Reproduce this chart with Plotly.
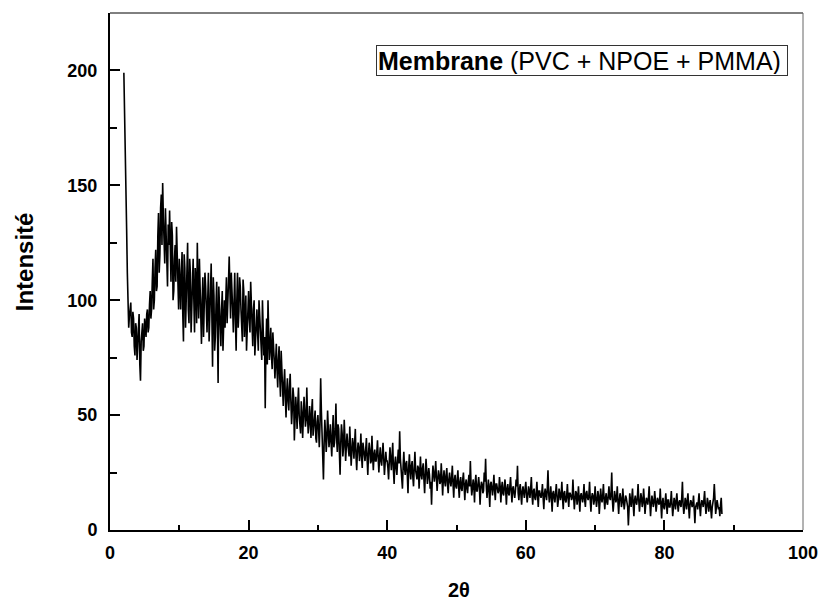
import numpy as np
import plotly.graph_objects as go

# 2-theta scan, read in blocks. "a" lists start at the block start,
# "b" lists are the readings in between (offset by half a step).
step_2theta = 0.2
half_step = 0.1

start_02_10 = 2.0
intensity_02_10_a = [199, 171, 131, 101, 93, 99, 84, 92, 76, 88,
                     80, 94, 65, 86, 78, 92, 84, 96, 88, 104,
                     96, 118, 100, 122, 106, 138, 120, 146, 151, 128,
                     140, 112, 133, 139, 108, 128, 104, 124, 132, 102]
intensity_02_10_b = [185, 150, 112, 88, 97, 86, 95, 80, 90, 74,
                     88, 72, 82, 90, 80, 88, 94, 86, 98, 92,
                     108, 96, 114, 104, 128, 112, 140, 124, 136, 116,
                     128, 106, 124, 114, 134, 100, 118, 108, 120, 96]

start_10_20 = 10.0
intensity_10_20_a = [118, 96, 121, 82, 114, 98, 125, 90, 112, 95,
                     118, 86, 108, 125, 92, 104, 81, 110, 94, 106,
                     86, 112, 90, 116, 71, 102, 84, 108, 64, 96,
                     80, 104, 90, 88, 110, 96, 119, 92, 106, 86,
                     112, 78, 112, 95, 106, 88, 109, 84, 102, 90]
intensity_10_20_b = [104, 112, 94, 120, 88, 110, 96, 118, 86, 106,
                     100, 114, 90, 104, 118, 88, 100, 84, 112, 92,
                     100, 82, 104, 94, 110, 78, 98, 88, 106, 84,
                     96, 78, 100, 104, 90, 108, 100, 112, 96, 104,
                     92, 100, 88, 110, 96, 82, 104, 92, 78, 98]

start_20_30 = 20.0
intensity_20_30_a = [104, 86, 98, 80, 100, 84, 96, 78, 94, 82,
                     100, 76, 53, 92, 100, 74, 88, 70, 82, 66,
                     81, 62, 80, 58, 72, 54, 70, 49, 66, 52,
                     68, 46, 62, 39, 58, 44, 62, 46, 56, 40,
                     58, 45, 62, 42, 54, 40, 57, 44, 52, 38]
intensity_20_30_b = [92, 108, 88, 96, 76, 92, 86, 100, 88, 74,
                     90, 84, 80, 72, 86, 80, 76, 86, 74, 78,
                     70, 74, 66, 78, 62, 64, 58, 60, 56, 62,
                     56, 52, 58, 48, 52, 55, 50, 42, 51, 48,
                     52, 48, 50, 46, 48, 52, 41, 46, 40, 47]

start_30_40 = 30.0
intensity_30_40_a = [50, 36, 66, 40, 22, 48, 34, 52, 36, 46,
                     32, 50, 38, 55, 34, 44, 24, 46, 32, 48,
                     30, 42, 35, 45, 28, 40, 31, 44, 26, 38,
                     30, 42, 27, 36, 30, 40, 24, 38, 29, 41,
                     26, 35, 30, 39, 25, 36, 28, 38, 24, 34]
intensity_30_40_b = [44, 46, 52, 34, 38, 42, 40, 44, 40, 38,
                     42, 36, 44, 40, 46, 34, 38, 42, 36, 40,
                     36, 38, 32, 36, 34, 37, 38, 32, 34, 36,
                     34, 32, 38, 33, 35, 31, 33, 35, 30, 32,
                     33, 30, 34, 31, 32, 30, 33, 31, 29, 30]

start_40_50 = 40.0
intensity_40_50_a = [30, 22, 36, 26, 38, 20, 32, 24, 35, 43,
                     26, 18, 34, 24, 30, 16, 33, 22, 30, 19,
                     34, 24, 28, 18, 32, 22, 29, 16, 31, 20,
                     27, 18, 11, 28, 21, 30, 17, 26, 20, 29,
                     15, 26, 19, 27, 16, 25, 19, 28, 14, 24]
intensity_40_50_b = [27, 30, 31, 32, 26, 29, 27, 30, 29, 31,
                     24, 28, 27, 29, 24, 27, 26, 28, 23, 27,
                     26, 22, 27, 25, 24, 27, 22, 24, 26, 23,
                     24, 21, 22, 25, 24, 23, 22, 24, 21, 23,
                     22, 21, 24, 20, 22, 21, 23, 20, 22, 19]

start_50_60 = 50.0
intensity_50_60_a = [18, 26, 14, 23, 17, 25, 13, 22, 16, 24,
                     30, 15, 22, 12, 24, 17, 23, 11, 21, 16,
                     25, 31, 14, 22, 10, 21, 15, 24, 13, 20,
                     16, 23, 12, 21, 15, 22, 11, 20, 15, 23,
                     12, 19, 14, 22, 28, 13, 20, 11, 19, 14]
intensity_50_60_b = [22, 19, 21, 18, 22, 19, 20, 18, 21, 19,
                     20, 18, 19, 21, 17, 20, 19, 18, 20, 17,
                     21, 19, 18, 17, 20, 18, 19, 17, 20, 18,
                     17, 19, 18, 16, 19, 17, 18, 16, 19, 17,
                     18, 16, 17, 19, 16, 18, 15, 17, 16, 18]

start_60_70 = 60.0
intensity_60_70_a = [21, 12, 19, 14, 23, 11, 18, 13, 21, 10,
                     17, 14, 20, 9, 18, 13, 26, 12, 19, 8,
                     17, 12, 20, 10, 18, 13, 21, 9, 17, 12,
                     20, 10, 16, 13, 22, 9, 17, 11, 19, 8,
                     16, 12, 20, 10, 17, 13, 21, 8, 16, 11]
intensity_60_70_b = [16, 15, 17, 18, 15, 17, 14, 16, 15, 17,
                     15, 16, 14, 16, 15, 18, 16, 15, 14, 16,
                     14, 16, 15, 13, 16, 15, 14, 16, 13, 15,
                     14, 16, 15, 14, 15, 13, 16, 14, 13, 15,
                     14, 15, 13, 16, 14, 15, 13, 14, 15, 13]

start_70_80 = 70.0
intensity_70_80_a = [19, 10, 17, 7, 18, 12, 20, 9, 16, 11,
                     19, 13, 25, 8, 17, 12, 19, 7, 16, 10,
                     18, 9, 15, 11, 2, 16, 10, 18, 6, 15,
                     11, 20, 8, 16, 10, 18, 7, 14, 11, 19,
                     6, 15, 10, 17, 8, 14, 11, 18, 5, 14]
intensity_70_80_b = [14, 13, 15, 12, 14, 15, 13, 14, 12, 15,
                     14, 16, 13, 12, 15, 14, 12, 13, 14, 12,
                     13, 12, 14, 10, 11, 13, 14, 11, 13, 12,
                     14, 13, 12, 14, 12, 13, 11, 13, 14, 12,
                     11, 13, 12, 13, 11, 13, 12, 11, 12, 10]

start_80_89 = 80.0
intensity_80_89_a = [9, 16, 7, 13, 10, 17, 6, 14, 9, 16,
                     8, 13, 10, 21, 7, 14, 9, 16, 5, 13,
                     10, 15, 3, 12, 9, 16, 6, 13, 10, 17,
                     7, 14, 8, 13, 5, 12, 20, 7, 13, 9,
                     6, 14]
intensity_80_89_b = [12, 11, 13, 10, 12, 11, 10, 12, 13, 11,
                     12, 11, 14, 11, 10, 12, 13, 10, 11, 12,
                     11, 9, 10, 12, 13, 10, 11, 12, 13, 11,
                     10, 12, 11, 9, 10, 14, 13, 10, 11, 10,
                     11, 7]

x_ticks = [0, 20, 40, 60, 80, 100]
y_ticks = [0, 50, 100, 150, 200]
legend_label = "<b>Membrane</b> (PVC + NPOE + PMMA)"
x_title = "<b>2θ</b>"
y_title = "<b>Intensité</b>"

blocks = [
    (start_02_10, intensity_02_10_a, intensity_02_10_b),
    (start_10_20, intensity_10_20_a, intensity_10_20_b),
    (start_20_30, intensity_20_30_a, intensity_20_30_b),
    (start_30_40, intensity_30_40_a, intensity_30_40_b),
    (start_40_50, intensity_40_50_a, intensity_40_50_b),
    (start_50_60, intensity_50_60_a, intensity_50_60_b),
    (start_60_70, intensity_60_70_a, intensity_60_70_b),
    (start_70_80, intensity_70_80_a, intensity_70_80_b),
    (start_80_89, intensity_80_89_a, intensity_80_89_b),
]
xs, ys = [], []
for s, va, vb in blocks:
    xs.extend(np.round(s + step_2theta * np.arange(len(va)), 2).tolist())
    ys.extend(va)
    xs.extend(np.round(s + half_step + step_2theta * np.arange(len(vb)), 2).tolist())
    ys.extend(vb)
order = np.argsort(xs, kind="stable")
xs = [xs[i] for i in order]
ys = [ys[i] for i in order]

FONT = "Liberation Sans, Arial, sans-serif"

fig = go.Figure()
fig.add_trace(go.Scatter(x=xs, y=ys, mode="lines",
                         line=dict(color="black", width=1.6), showlegend=False,
                         hoverinfo="skip"))

axis_common = dict(
    showgrid=False, zeroline=False, showline=True, linecolor="black",
    linewidth=2, ticks="inside", ticklen=10, tickwidth=2, tickcolor="black",
    tickfont=dict(family=FONT, size=18, color="black", weight="bold"),
)
fig.update_xaxes(range=[0, 100], tickvals=x_ticks, ticklabelstandoff=5,
                 minor=dict(ticks="inside", ticklen=5, tickwidth=2,
                            tickcolor="black", dtick=10, tick0=0),
                 **axis_common)
fig.update_yaxes(range=[0, 225], tickvals=y_ticks, ticklabelstandoff=7,
                 minor=dict(ticks="inside", ticklen=7, tickwidth=2,
                            tickcolor="black", dtick=25, tick0=0),
                 **axis_common)

# thin top and right frame lines
fig.add_shape(type="line", xref="paper", yref="paper", x0=0, x1=1, y0=1, y1=1,
              line=dict(color="black", width=1))
fig.add_shape(type="line", xref="paper", yref="paper", x0=1, x1=1, y0=0, y1=1,
              line=dict(color="#666666", width=1))

fig.add_annotation(xref="paper", yref="paper", x=0.978, y=0.938,
                   xanchor="right", yanchor="top", text=legend_label,
                   showarrow=False, align="left", width=408, height=27,
                   borderpad=1, bordercolor="#333333", borderwidth=1,
                   bgcolor="white",
                   font=dict(family=FONT, size=25, color="black"))
fig.add_annotation(xref="paper", yref="paper", x=-0.124, y=0.518,
                   xanchor="center", yanchor="middle", text=y_title,
                   textangle=-90, showarrow=False,
                   font=dict(family=FONT, size=24, color="black"))
fig.add_annotation(xref="paper", yref="paper", x=0.503, y=-0.116,
                   xanchor="center", yanchor="middle", text=x_title,
                   showarrow=False,
                   font=dict(family=FONT, size=20, color="black"))

fig.update_layout(width=827, height=602, paper_bgcolor="white",
                  plot_bgcolor="white",
                  margin=dict(l=110, r=24, t=13, b=72, autoexpand=False))
fig.write_html("out.html")
